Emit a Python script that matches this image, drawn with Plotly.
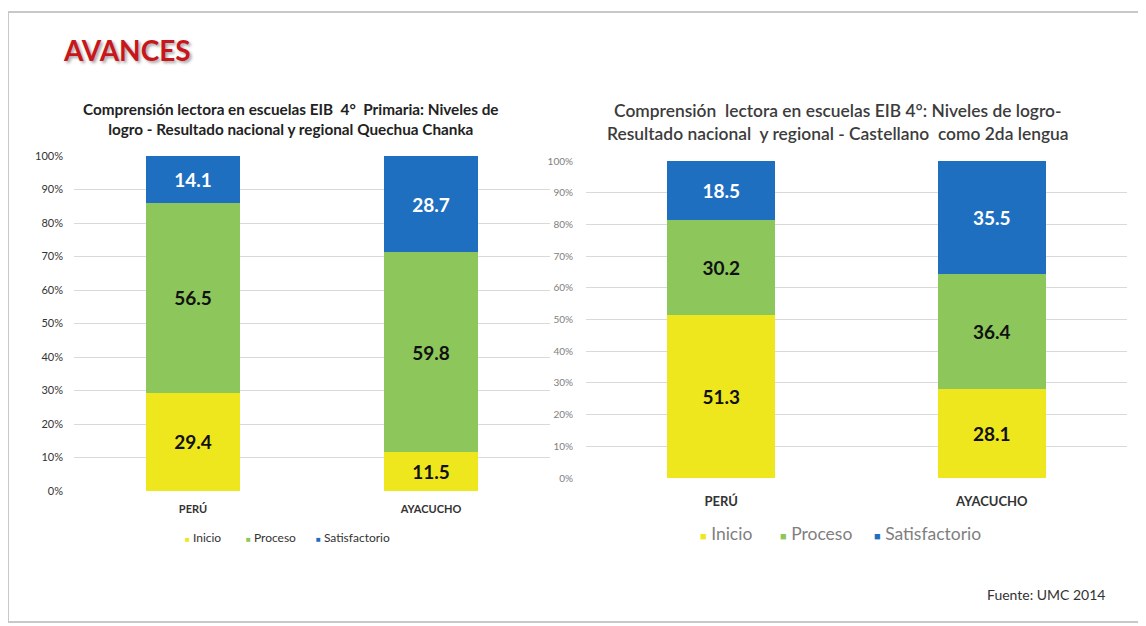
import plotly.graph_objects as go

# --- Data ---
categories = ["PERÚ", "AYACUCHO"]
levels = ["Inicio", "Proceso", "Satisfactorio"]

# Quechua Chanka (left chart)
quechua_inicio = [29.4, 11.5]
quechua_proceso = [56.5, 59.8]
quechua_satisf = [14.1, 28.7]

# Castellano como 2da lengua (right chart)
castellano_inicio = [51.3, 28.1]
castellano_proceso = [30.2, 36.4]
castellano_satisf = [18.5, 35.5]

tick_values = [0, 10, 20, 30, 40, 50, 60, 70, 80, 90, 100]
tick_labels = ["0%", "10%", "20%", "30%", "40%", "50%", "60%", "70%", "80%", "90%", "100%"]

colors = {"Inicio": "#eee71d", "Proceso": "#8dc65b", "Satisfactorio": "#1f6fc1"}
text_colors = {"Inicio": "#111111", "Proceso": "#111111", "Satisfactorio": "#ffffff"}

W, H = 1146, 626
OX, OY = 8, 8  # page body margin
FONT = "Lato"


def px(x):
    return (x - OX) / W


def py(y):
    return 1 - (y - OY) / H


fig = go.Figure()

left = {"Inicio": quechua_inicio, "Proceso": quechua_proceso, "Satisfactorio": quechua_satisf}
right = {"Inicio": castellano_inicio, "Proceso": castellano_proceso, "Satisfactorio": castellano_satisf}

for name in levels:
    fig.add_trace(go.Bar(
        x=categories, y=left[name], name=name, marker_color=colors[name],
        marker_line_width=0, width=0.395,
        texttemplate="<b>%{y:.1f}</b>", textposition="inside",
        insidetextanchor="middle", textangle=0,
        textfont=dict(family=FONT, size=19, color=text_colors[name]),
        xaxis="x", yaxis="y", showlegend=False, hoverinfo="y+name",
    ))

for name in levels:
    fig.add_trace(go.Bar(
        x=categories, y=right[name], name=name, marker_color=colors[name],
        marker_line_width=0, width=0.4,
        texttemplate="<b>%{y:.1f}</b>", textposition="inside",
        insidetextanchor="middle", textangle=0,
        textfont=dict(family=FONT, size=19, color=text_colors[name]),
        xaxis="x2", yaxis="y2", showlegend=False, hoverinfo="y+name",
    ))

grid = "#d9d9d9"
fig.update_layout(
    template="none",
    width=W, height=H, autosize=False,
    margin=dict(l=0, r=0, t=0, b=0, pad=0),
    paper_bgcolor="#ffffff", plot_bgcolor="#ffffff",
    barmode="stack",
    font=dict(family=FONT, color="#333333"),
    xaxis=dict(domain=[px(74), px(550)], anchor="y", showgrid=False, showline=False,
               automargin=False, ticks="",
               tickfont=dict(family=FONT, size=11, color="#333333", weight="bold"),
               ticklabelstandoff=10),
    yaxis=dict(domain=[py(491), py(156)], anchor="x", range=[0, 100],
               tickmode="array", tickvals=tick_values, ticktext=tick_labels,
               showgrid=True, gridcolor=grid, zeroline=False, showline=False,
               automargin=False, ticks="",
               tickfont=dict(family=FONT, size=11, color="#333333"), ticklabelstandoff=10),
    xaxis2=dict(domain=[px(586), px(1127)], anchor="y2", showgrid=False, showline=False,
                automargin=False, ticks="",
                tickfont=dict(family=FONT, size=13, color="#333333", weight="bold"),
                ticklabelstandoff=14),
    yaxis2=dict(domain=[py(478), py(161)], anchor="x2", range=[0, 100],
                tickmode="array", tickvals=tick_values, ticktext=tick_labels,
                showgrid=True, gridcolor=grid, zeroline=False, showline=False,
                automargin=False, ticks="",
                tickfont=dict(family=FONT, size=10, color="#808080"), ticklabelstandoff=12),
    showlegend=False,
)

# slide frame
fig.add_shape(type="rect", xref="paper", yref="paper",
              x0=px(8), x1=px(1141), y0=py(622), y1=py(12),
              line=dict(color="#c8c8c8", width=2), layer="below")

# legends (colored squares + labels), one row under each chart
legend_rows = [
    (py(537), [187, 248, 318], 12, 8, "#333333"),
    (py(533), [703, 783, 877], 17.5, 11, "#7f7f7f"),
]
for y, xs, size, sq, col in legend_rows:
    for name, x in zip(levels, xs):
        fig.add_annotation(
            text=f"<span style='color:{colors[name]}; font-size:{sq}px'>■</span> {name}",
            xref="paper", yref="paper", x=px(x - sq / 2), y=y,
            xanchor="left", yanchor="middle", showarrow=False,
            font=dict(family=FONT, size=size, color=col),
        )

fig.add_annotation(
    text="<b>AVANCES</b>", xref="paper", yref="paper", x=px(61), y=py(50),
    xanchor="left", yanchor="middle", showarrow=False,
    font=dict(family=FONT, size=28, color="#c8161d", shadow="2px 2px 3px rgba(0,0,0,0.35)"),
)
fig.add_annotation(
    text="<b>Comprensión lectora en escuelas EIB  4°  Primaria: Niveles de<br>"
         "logro - Resultado nacional y regional Quechua Chanka</b>",
    xref="paper", yref="paper", x=px(291), y=py(119), xanchor="center", yanchor="middle",
    showarrow=False, align="center",
    font=dict(family=FONT, size=15.3, color="#222222"),
)
fig.add_annotation(
    text="Comprensión  lectora en escuelas EIB 4°: Niveles de logro-<br>"
         "Resultado nacional  y regional - Castellano  como 2da lengua",
    xref="paper", yref="paper", x=px(838), y=py(122), xanchor="center", yanchor="middle",
    showarrow=False, align="center",
    font=dict(family=FONT, size=17.4, color="#3c3c3c", weight=600),
)
fig.add_annotation(
    text="Fuente: UMC 2014", xref="paper", yref="paper", x=px(1107), y=py(594),
    xanchor="right", yanchor="middle", showarrow=False,
    font=dict(family=FONT, size=14, color="#333333"),
)

fig.write_html("out.html")
